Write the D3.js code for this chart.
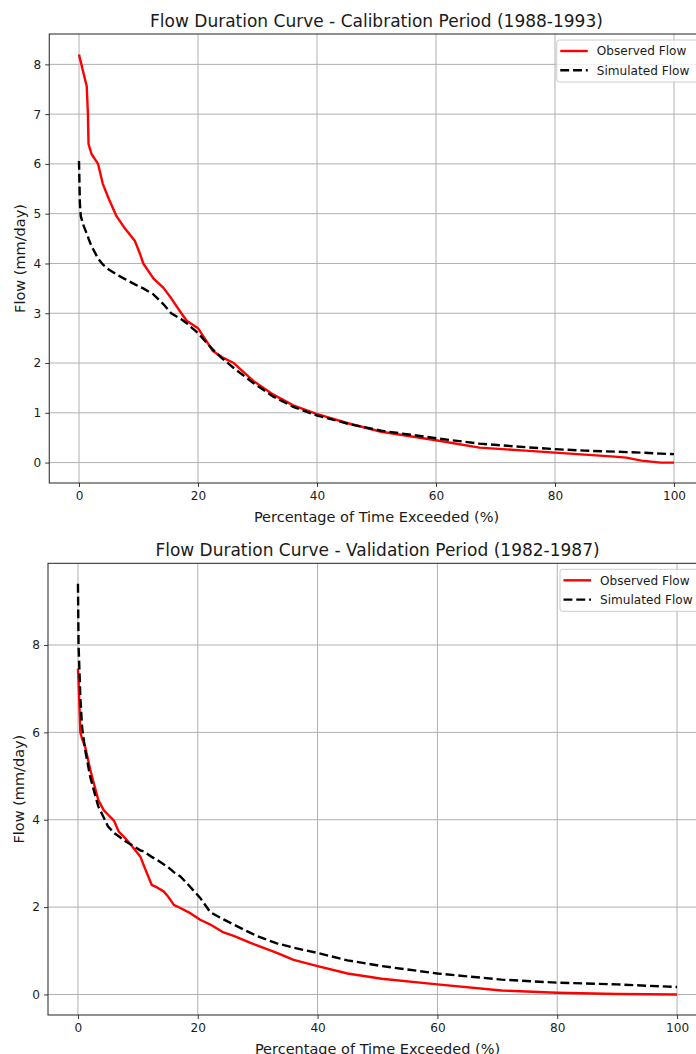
<!DOCTYPE html>
<html>
<head>
<meta charset="utf-8">
<script src="https://cdnjs.cloudflare.com/ajax/libs/d3/7.8.5/d3.min.js"></script>
<style>
  body { margin: 0; background: #fff; }
  text { font-family: "DejaVu Sans", sans-serif; fill: #1a1a1a; }
</style>
</head>
<body>
<div id="chart"></div>
<script>
// calibration period 1988-1993
var calPct = [0, 0.15, 0.3, 0.8, 1.3, 1.5, 1.6, 2.1, 3.2, 4.0, 5.0, 6.3, 7.5, 9.4, 10.2, 10.8, 12.5, 14.2, 15.5, 17.2, 18.1, 20, 22.5, 24, 26, 29.3, 32.6, 36, 39.9, 45.2, 50.8, 60, 67.3, 75, 80, 85, 90, 92, 94.5, 97.8, 100];
var calObs = [8.2, 8.12, 8.05, 7.8, 7.56, 7.0, 6.4, 6.2, 6.0, 5.6, 5.3, 4.95, 4.74, 4.45, 4.21, 4.0, 3.7, 3.51, 3.3, 3.0, 2.85, 2.7, 2.24, 2.12, 2.0, 1.64, 1.37, 1.15, 0.98, 0.79, 0.62, 0.45, 0.30, 0.24, 0.20, 0.16, 0.12, 0.10, 0.04, 0.0, 0.0];
var calSim = [6.06, 5.2, 4.95, 4.75, 4.6, 4.55, 4.5, 4.35, 4.1, 3.98, 3.88, 3.78, 3.7, 3.58, 3.53, 3.5, 3.38, 3.18, 3.0, 2.88, 2.8, 2.6, 2.27, 2.1, 1.9, 1.6, 1.33, 1.12, 0.95, 0.78, 0.64, 0.49, 0.38, 0.31, 0.27, 0.24, 0.22, 0.21, 0.20, 0.18, 0.17];

// validation period 1982-1987
var valPct = [0, 0.1, 0.4, 0.7, 1.2, 2.05, 2.5, 3.4, 4.3, 5.0, 6.0, 6.8, 8.0, 9.0, 10.4, 11.0, 12.3, 13.2, 14.3, 15.0, 16.0, 17.1, 18.5, 20.4, 22.1, 24.3, 26.0, 28.8, 30.0, 33.2, 36.0, 40.0, 45.0, 50.7, 60, 70.7, 80, 90, 100];
var valObs = [7.46, 7.2, 6.0, 5.85, 5.67, 5.15, 4.91, 4.45, 4.22, 4.12, 3.98, 3.73, 3.56, 3.4, 3.16, 2.95, 2.51, 2.45, 2.36, 2.25, 2.05, 1.98, 1.88, 1.71, 1.6, 1.42, 1.34, 1.18, 1.12, 0.95, 0.79, 0.65, 0.48, 0.36, 0.23, 0.09, 0.04, 0.01, 0.0];
var valSim = [9.40, 8.0, 6.8, 6.1, 5.6, 4.98, 4.75, 4.30, 4.05, 3.85, 3.7, 3.62, 3.5, 3.42, 3.3, 3.27, 3.15, 3.08, 2.98, 2.92, 2.8, 2.7, 2.5, 2.21, 1.88, 1.72, 1.6, 1.41, 1.33, 1.17, 1.07, 0.95, 0.78, 0.65, 0.48, 0.34, 0.27, 0.23, 0.17];

var xTicks = [0, 20, 40, 60, 80, 100];
var calYTicks = [0, 1, 2, 3, 4, 5, 6, 7, 8];
var valYTicks = [0, 2, 4, 6, 8];
var seriesNames = ["Observed Flow", "Simulated Flow"];

var W = 696, H = 1054;
var fs = 12.1;      // ticks, legend
var labelFs = 14.5; // axis labels
var titleFs = 17;

var svg = d3.select("#chart").append("svg")
  .attr("width", W)
  .attr("height", H)
  .style("display", "block");

svg.append("rect").attr("width", W).attr("height", H).attr("fill", "#fff");

function drawPanel(box, title, pct, obs, sim, yTicks) {
  var x = d3.scaleLinear().domain([-5, 105]).range([box.left, box.right]);
  var ymax = d3.max(obs.concat(sim));
  var pad = ymax * 0.05;
  var y = d3.scaleLinear().domain([-pad, ymax + pad]).range([box.bottom, box.top]);

  var g = svg.append("g");

  // grid
  g.append("g").selectAll("line").data(xTicks).enter().append("line")
    .attr("x1", d => x(d)).attr("x2", d => x(d))
    .attr("y1", box.top).attr("y2", box.bottom)
    .attr("stroke", "#b0b0b0").attr("stroke-width", 1);
  g.append("g").selectAll("line").data(yTicks).enter().append("line")
    .attr("x1", box.left).attr("x2", box.right)
    .attr("y1", d => y(d)).attr("y2", d => y(d))
    .attr("stroke", "#b0b0b0").attr("stroke-width", 1);

  var pts = pct.map((p, i) => ({p: p, o: obs[i], s: sim[i]}));

  g.append("path").datum(pts)
    .attr("fill", "none")
    .attr("stroke", "#ff0000")
    .attr("stroke-width", 2.4)
    .attr("stroke-linejoin", "round")
    .attr("d", d3.line().x(d => x(d.p)).y(d => y(d.o)));

  g.append("path").datum(pts)
    .attr("fill", "none")
    .attr("stroke", "#000")
    .attr("stroke-width", 2.4)
    .attr("stroke-dasharray", "8.9,3.9")
    .attr("d", d3.line().x(d => x(d.p)).y(d => y(d.s)));

  // axes
  var xa = g.append("g").attr("transform", "translate(0," + box.bottom + ")")
    .call(d3.axisBottom(x).tickValues(xTicks).tickSize(4).tickPadding(4).tickFormat(d3.format("d")));
  var ya = g.append("g").attr("transform", "translate(" + box.left + ",0)")
    .call(d3.axisLeft(y).tickValues(yTicks).tickSize(4).tickPadding(4).tickFormat(d3.format("d")));
  [xa, ya].forEach(function(a) {
    a.select(".domain").remove();
    a.selectAll("line").attr("stroke", "#222").attr("stroke-width", 0.9);
    a.selectAll("text").style("font-family", "DejaVu Sans").attr("font-size", fs).attr("fill", "#1a1a1a");
  });

  // spines
  g.append("rect")
    .attr("x", box.left).attr("y", box.top)
    .attr("width", box.right - box.left).attr("height", box.bottom - box.top)
    .attr("fill", "none").attr("stroke", "#222").attr("stroke-width", 1);

  // title and labels
  var cx = (box.left + box.right) / 2;
  g.append("text").attr("x", cx).attr("y", box.top - 7)
    .attr("text-anchor", "middle").attr("font-size", titleFs).text(title);
  g.append("text").attr("x", cx).attr("y", box.bottom + 38.5)
    .attr("text-anchor", "middle").attr("font-size", labelFs).text("Percentage of Time Exceeded (%)");
  g.append("text")
    .attr("transform", "translate(" + (box.left - 24) + "," + ((box.top + box.bottom) / 2) + ") rotate(-90)")
    .attr("text-anchor", "middle").attr("font-size", labelFs).text("Flow (mm/day)");

  // legend
  var lx = box.right - 147, ly = box.top + 6;
  var lg = g.append("g").attr("transform", "translate(" + lx + "," + ly + ")");
  lg.append("rect").attr("width", 160).attr("height", 42).attr("rx", 2.5)
    .attr("fill", "#fff").attr("fill-opacity", 0.8)
    .attr("stroke", "#cccccc").attr("stroke-width", 1);
  seriesNames.forEach(function(name, i) {
    var ry = 11 + i * 19.3;
    lg.append("line").attr("x1", 3.5).attr("x2", 31).attr("y1", ry).attr("y2", ry)
      .attr("stroke", i == 0 ? "#ff0000" : "#000").attr("stroke-width", 2.4)
      .attr("stroke-dasharray", i == 0 ? null : "8.9,3.9");
    lg.append("text").attr("x", 40).attr("y", ry).attr("dy", "0.35em")
      .attr("font-size", fs).text(name);
  });
}

drawPanel({left: 49.25, right: 703.75, top: 34, bottom: 483},
  "Flow Duration Curve - Calibration Period (1988-1993)", calPct, calObs, calSim, calYTicks);
drawPanel({left: 48, right: 707, top: 563.3, bottom: 1015},
  "Flow Duration Curve - Validation Period (1982-1987)", valPct, valObs, valSim, valYTicks);
</script>
</body>
</html>
